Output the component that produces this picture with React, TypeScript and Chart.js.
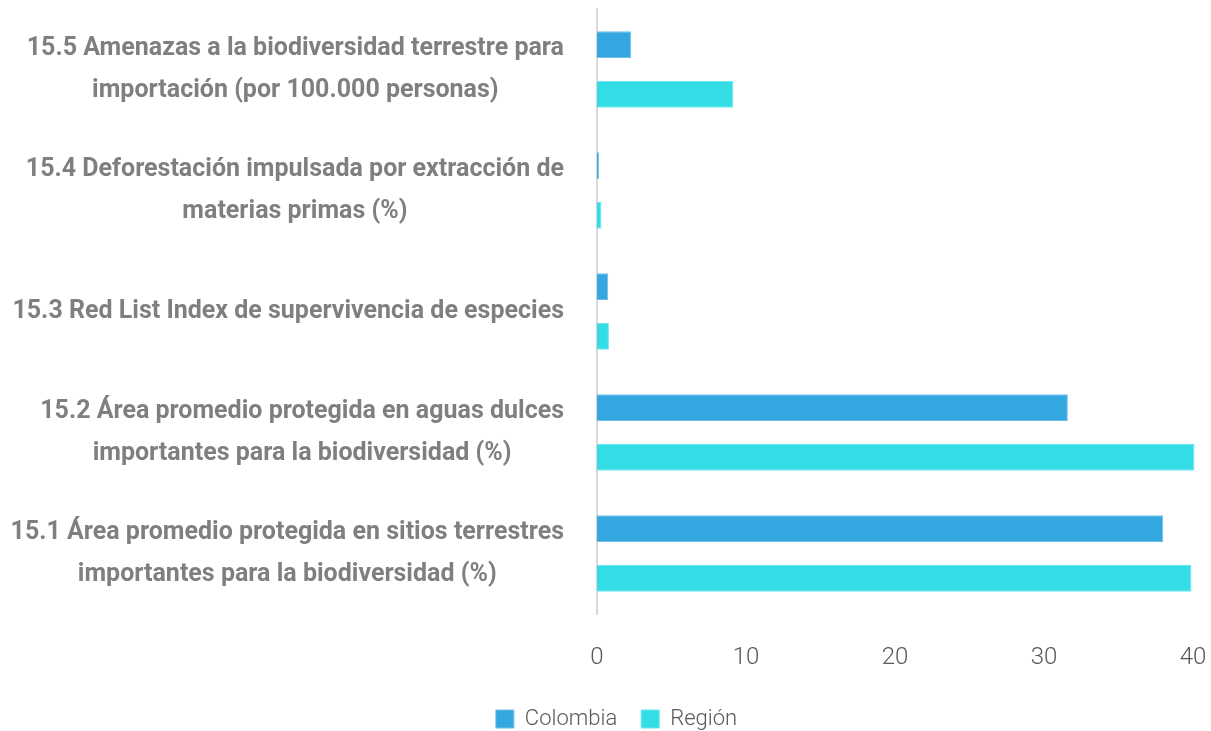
import React, { useEffect, useRef } from "react";
import { Chart, registerables } from "chart.js";

Chart.register(...registerables);

const categories: string[][] = [
  ["15.5 Amenazas a la biodiversidad terrestre para", "importación (por 100.000 personas)"],
  ["15.4 Deforestación impulsada por extracción de", "materias primas (%)"],
  ["15.3 Red List Index de supervivencia de especies"],
  ["15.2 Área promedio protegida en aguas dulces", "importantes para la biodiversidad (%)"],
  ["15.1 Área promedio protegida en sitios terrestres", "importantes para la biodiversidad (%)"],
];

const colombiaValues = [2.3, 0.13, 0.75, 31.6, 38.0];
const regionValues = [9.15, 0.3, 0.8, 40.1, 39.9];

const seriesNames = ["Colombia", "Región"];
const xTicks = [0, 10, 20, 30, 40];

const LABEL_FONT = "bold 25px Roboto";
const LABEL_COLOR = "#7f7f7f";
const LABEL_LINE = 42;

const blockLabels = {
  id: "blockLabels",
  afterDraw(chart: any) {
    const ctx = chart.ctx as CanvasRenderingContext2D;
    const yScale = chart.scales.y;
    const right = chart.chartArea.left - 33;
    ctx.save();
    ctx.font = LABEL_FONT;
    ctx.fillStyle = LABEL_COLOR;
    ctx.textAlign = "center";
    ctx.textBaseline = "middle";
    categories.forEach((lines, i) => {
      const w = Math.max(...lines.map((l) => ctx.measureText(l).width));
      const cx = right - w / 2;
      const cy = yScale.getPixelForTick(i);
      const startY = cy - ((lines.length - 1) * LABEL_LINE) / 2;
      lines.forEach((l, j) => ctx.fillText(l, cx, startY + j * LABEL_LINE));
    });
    ctx.restore();
  },
};

export default function App() {
  const ref = useRef<HTMLCanvasElement>(null);

  useEffect(() => {
    document.body.style.margin = "0";
    if (!ref.current) return;
    const chart = new Chart(ref.current, {
      type: "bar",
      data: {
        labels: categories.map((c) => c.join(" ")),
        datasets: [
          {
            label: seriesNames[0],
            data: colombiaValues,
            backgroundColor: "#34A7E0",
            borderColor: "#6cc0ea",
            borderWidth: 1,
            categoryPercentage: 0.823,
            barPercentage: 0.54,
            clip: false,
          },
          {
            label: seriesNames[1],
            data: regionValues,
            backgroundColor: "#34DDE6",
            borderColor: "#6be7ee",
            borderWidth: 1,
            categoryPercentage: 0.823,
            barPercentage: 0.54,
            clip: false,
          },
        ],
      },
      options: {
        indexAxis: "y",
        animation: false,
        responsive: true,
        maintainAspectRatio: false,
        layout: { padding: { top: 9, right: 18, left: 40, bottom: 0 } },
        scales: {
          x: {
            min: 0,
            max: 40,
            afterBuildTicks: (scale: any) => {
              scale.ticks = xTicks.map((v) => ({ value: v }));
            },
            grid: { display: false, drawTicks: true, tickLength: 18 },
            border: { display: false },
            ticks: {
              color: "#595959",
              font: { family: "Roboto", size: 24, weight: 300, lineHeight: 2 },
              padding: 2,
            },
          },
          y: {
            grid: { display: false, drawTicks: false },
            border: { display: true, color: "#d9d9d9", width: 2 },
            ticks: { display: false },
            afterFit: (scale: any) => {
              scale.width = 557;
            },
          },
        },
        plugins: {
          legend: {
            position: "bottom",
            maxHeight: 47,
            labels: {
              color: "#595959",
              font: { family: "Roboto", size: 22, weight: 300 },
              boxWidth: 18,
              boxHeight: 18,
              padding: 24,
            },
          },
          tooltip: { enabled: false },
        },
      },
      plugins: [blockLabels],
    } as any);
    return () => chart.destroy();
  }, []);

  return (
    <div style={{ width: 1211, height: 731, position: "relative" }}>
      <canvas ref={ref} />
    </div>
  );
}
